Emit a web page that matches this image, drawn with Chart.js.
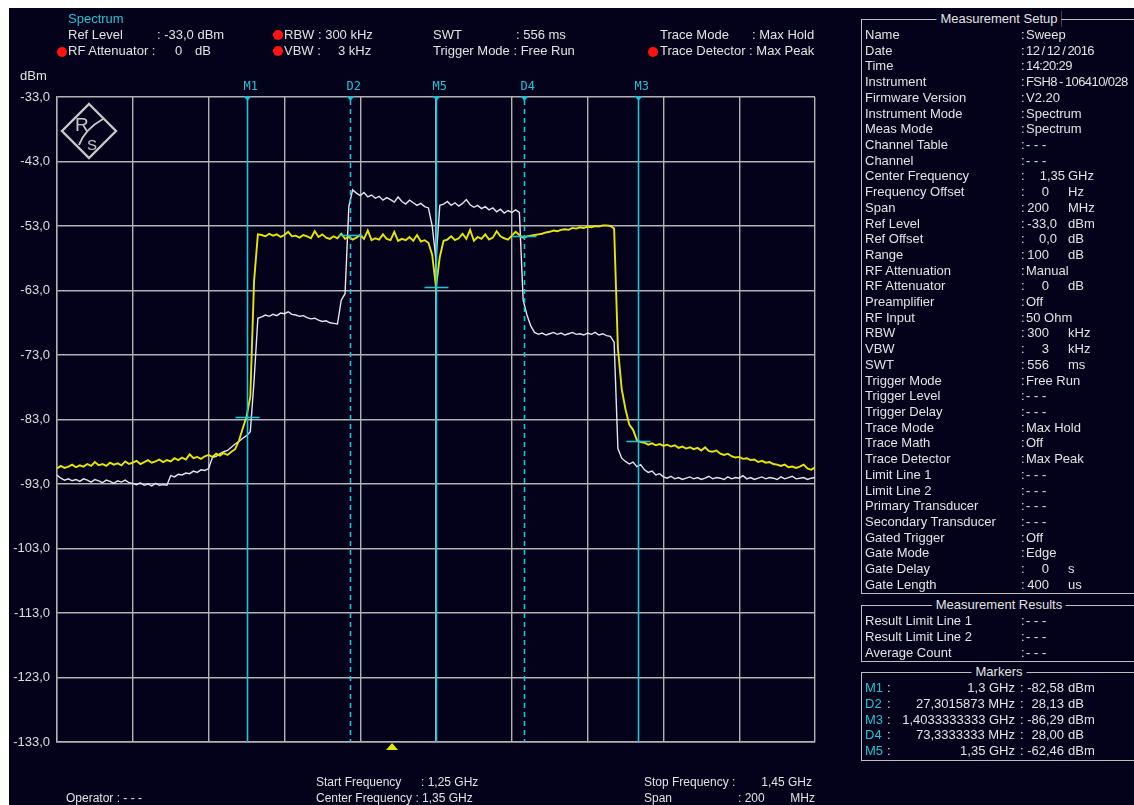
<!DOCTYPE html>
<html>
<head>
<meta charset="utf-8">
<script src="https://cdn.jsdelivr.net/npm/chart.js@4.4.1/dist/chart.umd.min.js"></script>
<style>
html,body{margin:0;padding:0;background:#fff;width:1134px;height:805px;overflow:hidden;}
#screen{position:absolute;left:9px;top:8px;width:1125px;height:797px;background:#03021a;}
#plot{position:absolute;left:0;top:0;}
#text{position:absolute;left:0;top:0;width:1134px;height:805px;}
.t{position:absolute;white-space:pre;font:13px 'Liberation Sans',Arial,sans-serif;color:#e2e2e2;line-height:16px;height:16px;}
.sm{font-size:12px;}
.r{transform:translateX(-100%);}
.c{transform:translateX(-50%);}
.cy{color:#22c4d4;}
.tight{letter-spacing:-0.6px;word-spacing:-0.8px;}
.dot{position:absolute;width:10px;height:10px;border-radius:50%;background:#ff1212;}
.box{position:absolute;border:1.5px solid #c0c0c0;box-sizing:border-box;}
.ttl{background:#03021a;padding:0 4px;}
</style>
</head>
<body>
<div id="screen"></div>
<canvas id="plot" width="1134" height="805"></canvas>
<div id="text"></div>
<script>
// Sweep: 1.25 GHz .. 1.45 GHz, 1 MHz per trace point
const startMHz = 1250;
const stopMHz = 1450;
const stepMHz = 1;
const refLevel = -33;
const bottomLevel = -133;
const freqGridMHz = [1250, 1270, 1290, 1310, 1330, 1350, 1370, 1390, 1410, 1430, 1450];
const levelGrid = [-133, -123, -113, -103, -93, -83, -73, -63, -53, -43, -33];

// Trace 1 (yellow), dBm, segments: [first frequency in MHz, levels]
const yellowTrace = [
  [1250, [-90.6,-90.2,-90.5,-90.3,-90.0,-90.4,-90.1,-90.3,-89.9,-90.2,
          -89.6,-90.1,-89.9,-90.2,-89.7,-90.0,-89.8,-90.1,-89.5,-89.9]],
  [1270, [-89.7,-89.4,-89.9,-89.6,-89.3,-89.7,-89.5,-89.2,-89.6,-89.3,
          -89.5,-89.0,-89.3,-88.9,-89.2,-88.4,-89.0,-88.8,-89.1,-88.7]],
  [1290, [-88.5,-88.8,-88.3,-88.6,-88.2,-88.5,-88.0,-87.6,-86.3,-84.4]],
  [1300, [-82.58,-79.5,-61.5,-54.3]],
  [1304, [-54.4,-54.6,-54.2,-54.5,-54.3,-54.7,-54.4,-53.9,-54.6,-54.5,
          -54.8,-54.4,-54.6,-54.9,-53.8,-54.7,-54.3,-54.8,-55.0,-54.6,
          -54.9,-54.2,-55.0,-54.7,-55.1,-54.8,-54.4,-55.0,-53.7,-55.2,
          -54.9,-55.1,-54.3,-55.0,-55.2,-53.9,-55.3,-55.0,-55.2,-54.7,
          -55.3,-54.4,-55.4,-55.2]],
  [1348, [-55.6,-57.5,-62.46,-57.8,-55.3]],
  [1353, [-55.1,-54.6,-55.2,-54.9,-54.2,-55.0,-53.6,-55.3,-54.7,-55.0,
          -54.3,-55.1,-54.8,-53.8,-54.6,-54.9,-55.1,-54.5,-53.9,-54.4,
          -54.8]],
  [1374, [-54.6,-54.5,-54.4,-54.3,-54.2,-54.0,-53.9,-53.7,-53.8,-53.6,
          -53.5,-53.6,-53.3,-53.4,-53.2,-53.3,-53.1,-53.2,-53.0,-53.1,
          -52.9,-52.9,-53.0]],
  [1397, [-53.4,-72.0,-78.3,-81.4,-83.8,-84.6,-86.2,-86.5]],
  [1405, [-86.6,-86.9,-86.7,-87.0,-86.8,-87.1,-86.9,-87.2,-87.0,-87.4,
          -87.2,-87.5,-87.3,-87.6,-87.4,-87.8,-87.3,-87.9,-88.0,-87.8,
          -88.3,-88.5,-88.3,-88.7,-88.9,-88.8,-89.1,-89.0,-89.3,-89.2,
          -89.6,-89.4,-89.7,-89.6,-89.9,-90.0,-90.2,-90.0,-90.4,-90.3,
          -90.5,-90.3,-90.0,-90.6,-90.8,-90.4]]
];

// Trace 2 (white), dBm
const whiteTrace = [
  [1250, [-91.6,-92.1,-92.4,-92.2,-92.5,-92.3,-92.6,-92.2,-92.4,-92.7,
          -92.3,-92.5,-92.8,-92.4,-92.6,-92.9,-92.5,-92.7,-92.4,-92.8]],
  [1270, [-92.9,-93.1,-92.8,-93.2,-93.0,-93.3,-92.9,-93.2,-93.1,-93.2]],
  [1280, [-91.7,-91.9,-91.5,-91.6,-91.3,-91.4,-91.0,-91.2,-90.8,-90.9,-90.6]],
  [1291, [-88.9,-88.7,-88.3,-88.0,-87.8,-87.3,-86.8,-86.4,-85.9,-85.5,-84.9,-77.0]],
  [1303, [-67.3,-67.1,-66.8,-67.0,-66.7,-66.9,-66.5,-66.6,-66.3,-66.7,
          -66.8,-67.0,-66.9,-67.2,-67.4,-67.3,-67.6,-67.8,-67.7,-68.0,
          -68.1,-68.2]],
  [1325, [-64.5,-63.5,-50.0,-47.4]],
  [1329, [-47.9,-48.3,-47.8,-48.5,-48.2,-48.7,-48.4,-49.0,-48.6,-48.9,
          -49.3,-48.5,-49.2,-49.6,-49.0,-49.4,-49.8,-49.5,-50.0,-50.2]],
  [1349, [-53.0,-58.3,-49.8]],
  [1352, [-49.6,-49.2,-49.8,-49.4,-49.9,-49.5,-48.9,-49.7,-50.1,-49.8,
          -50.3,-50.0,-50.5,-50.2,-50.8,-50.4,-51.0,-50.6,-50.9,-50.5,
          -50.9]],
  [1373, [-64.5,-66.8,-68.5]],
  [1376, [-69.5,-69.8,-69.6,-69.9,-69.7,-69.5,-69.8,-69.6,-69.9,-69.7,
          -69.5,-69.8,-69.7,-69.9,-69.6,-69.8,-69.5,-69.9,-69.7,-70.0,
          -70.1]],
  [1397, [-71.0,-87.5,-89.0,-89.5,-89.9,-89.6,-90.3,-90.0,-90.8,-91.2,
          -91.0,-91.6,-91.4,-91.9]],
  [1411, [-92.1,-91.8,-92.2,-92.0,-92.3,-92.1,-91.9,-92.2,-92.0,-92.3,
          -92.1,-91.8,-92.2,-92.0,-92.1,-92.3,-91.9,-92.2,-92.0,-92.1,
          -91.7,-92.2,-92.0,-92.3,-92.1,-91.9,-92.2,-92.0,-92.1,-92.3,
          -91.9,-92.2,-92.0,-91.8,-92.2,-92.1,-92.0,-92.3,-92.1,-92.0]]
];

// Markers: M = absolute (MHz, dBm); D = delta to M1 (MHz, dB)
const markerNames = ['M1', 'D2', 'M3', 'D4', 'M5'];
const markerFreqMHz = [1300, 27.3015873, 1403.3333333, 73.3333333, 1350];
const markerValues = [-82.58, 28.13, -86.29, 28.00, -62.46];
const centerMarkMHz = [1338.4];

const setupLabels = ['Name','Date','Time','Instrument','Firmware Version','Instrument Mode','Meas Mode',
  'Channel Table','Channel','Center Frequency','Frequency Offset','Span','Ref Level','Ref Offset','Range',
  'RF Attenuation','RF Attenuator','Preamplifier','RF Input','RBW','VBW','SWT','Trigger Mode','Trigger Level',
  'Trigger Delay','Trace Mode','Trace Math','Trace Detector','Limit Line 1','Limit Line 2','Primary Transducer',
  'Secondary Transducer','Gated Trigger','Gate Mode','Gate Delay','Gate Length'];
const setupValues = ['Sweep','12 / 12 / 2016','14:20:29','FSH8 - 106410/028','V2.20','Spectrum','Spectrum',
  '- - -','- - -','1,35','0','200','-33,0','0,0','100','Manual','0','Off','50 Ohm','300','3','556','Free Run',
  '- - -','- - -','Max Hold','Off','Max Peak','- - -','- - -','- - -','- - -','Off','Edge','0','400'];
const setupUnits = ['','','','','','','','','','GHz','Hz','MHz','dBm','dB','dB','','dB','','','kHz','kHz','ms',
  '','','','','','','','','','','','','s','us'];
const resultLabels = ['Result Limit Line 1','Result Limit Line 2','Average Count'];
const resultValues = ['- - -','- - -','- - -'];

const CYAN = '#1fc3d3';
const YELLOW = '#e6e600';
const TRACE_WHITE = '#e4e4ec';
const GRID = '#b2b2b2';

function expand(trace) {
  const pts = [];
  trace.forEach(([first, vals]) => vals.forEach((v, i) => pts.push({x: first + i * stepMHz, y: v})));
  return pts;
}
function comma(v, d) { return v.toFixed(d).replace('.', ','); }

function markerPoint(i) {
  if (markerNames[i][0] === 'D') {
    return {f: markerFreqMHz[0] + markerFreqMHz[i], lvl: markerValues[0] + markerValues[i], dashed: true};
  }
  return {f: markerFreqMHz[i], lvl: markerValues[i], dashed: false};
}

// R&S logo in the upper-left corner of the graticule
const logoPlugin = {
  id: 'logo',
  beforeDatasetsDraw(chart) {
    const ctx = chart.ctx, cx = 89, cy = 131, r = 27;
    ctx.save();
    ctx.strokeStyle = '#c6c6c6';
    ctx.fillStyle = '#c6c6c6';
    ctx.lineWidth = 2.4;
    ctx.beginPath();
    ctx.moveTo(cx, cy - r); ctx.lineTo(cx + r, cy); ctx.lineTo(cx, cy + r); ctx.lineTo(cx - r, cy);
    ctx.closePath(); ctx.stroke();
    ctx.font = '19px "Liberation Sans", Arial, sans-serif';
    ctx.textBaseline = 'alphabetic';
    ctx.fillText('R', cx - 14, cy);
    ctx.font = '15px "Liberation Sans", Arial, sans-serif';
    ctx.fillText('S', cx - 2, cy + 19);
    ctx.lineWidth = 2;
    ctx.beginPath();
    ctx.moveTo(cx - 10, cy + 14);
    ctx.quadraticCurveTo(cx - 4, cy - 2, cx + 14, cy - 12);
    ctx.stroke();
    ctx.restore();
  }
};

// Marker lines, level ticks and labels
const markerPlugin = {
  id: 'markers',
  afterDatasetsDraw(chart) {
    const {ctx, chartArea: a, scales: {x, y}} = chart;
    ctx.save();
    markerNames.forEach((name, i) => {
      const m = markerPoint(i);
      const px = Math.round(x.getPixelForValue(m.f)) + 0.5;
      const py = Math.round(y.getPixelForValue(m.lvl)) + 0.5;
      ctx.strokeStyle = CYAN;
      ctx.fillStyle = CYAN;
      ctx.lineWidth = 1.6;
      ctx.setLineDash(m.dashed ? [5, 4] : []);
      ctx.beginPath(); ctx.moveTo(px, a.top + 3); ctx.lineTo(px, a.bottom); ctx.stroke();
      ctx.setLineDash([]);
      ctx.beginPath(); ctx.moveTo(px - 12, py); ctx.lineTo(px + 12, py); ctx.stroke();
      ctx.beginPath(); ctx.moveTo(px - 4, a.top - 1); ctx.lineTo(px + 4, a.top - 1); ctx.lineTo(px, a.top + 4);
      ctx.closePath(); ctx.fill();
      ctx.font = '12px "DejaVu Sans Mono", monospace';
      ctx.textBaseline = 'middle';
      ctx.textAlign = 'left';
      ctx.fillText(name, px - 4, a.top - 10);
    });
    // centre-frequency pointer under the graticule
    centerMarkMHz.forEach(f => {
      const px = x.getPixelForValue(f);
      ctx.fillStyle = YELLOW;
      ctx.beginPath(); ctx.moveTo(px, a.bottom + 1); ctx.lineTo(px + 6, a.bottom + 8); ctx.lineTo(px - 6, a.bottom + 8);
      ctx.closePath(); ctx.fill();
    });
    ctx.restore();
  }
};

new Chart(document.getElementById('plot'), {
  type: 'line',
  data: {
    datasets: [
      {data: expand(yellowTrace), borderColor: YELLOW, borderWidth: 1.9, pointRadius: 0, tension: 0},
      {data: expand(whiteTrace), borderColor: TRACE_WHITE, borderWidth: 1.4, pointRadius: 0, tension: 0}
    ]
  },
  options: {
    responsive: false,
    animation: false,
    events: [],
    layout: {padding: {top: 97, right: 319, bottom: 63, left: 0}},
    plugins: {legend: {display: false}, tooltip: {enabled: false}},
    scales: {
      x: {
        type: 'linear', min: startMHz, max: stopMHz,
        afterBuildTicks: s => { s.ticks = freqGridMHz.map(v => ({value: v})); },
        afterFit: s => { s.height = 0; },
        ticks: {display: false},
        grid: {color: GRID, lineWidth: 1.4, drawTicks: false},
        border: {color: GRID, width: 1.4}
      },
      y: {
        type: 'linear', min: bottomLevel, max: refLevel,
        afterBuildTicks: s => { s.ticks = levelGrid.map(v => ({value: v})); },
        afterFit: s => { s.width = 57; },
        ticks: {
          autoSkip: false, padding: 7, color: '#dedede',
          font: {family: '"Liberation Sans", Arial, sans-serif', size: 13},
          callback: v => comma(v, 1)
        },
        grid: {color: GRID, lineWidth: 1.4, drawTicks: false},
        border: {color: GRID, width: 1.4}
      }
    }
  },
  plugins: [logoPlugin, markerPlugin]
});

// ---- text around the graticule ----
const T = document.getElementById('text');
function put(str, x, y, cls) {
  const d = document.createElement('div');
  d.className = 't ' + (cls || '');
  d.textContent = str;
  d.style.left = x + 'px';
  d.style.top = (y - 8) + 'px';
  T.appendChild(d);
  return d;
}
function dot(x, y) {
  const d = document.createElement('div');
  d.className = 'dot';
  d.style.left = (x - 5) + 'px';
  d.style.top = (y - 5) + 'px';
  T.appendChild(d);
}
function box(x, y, w, h, title) {
  const b = document.createElement('div');
  b.className = 'box';
  b.style.left = x + 'px'; b.style.top = y + 'px';
  b.style.width = w + 'px'; b.style.height = h + 'px';
  T.appendChild(b);
  put(title, 999, y, 'c ttl');
}

// header
put('Spectrum', 68, 19, 'cy');
put('Ref Level', 68, 35); put(': ' + comma(refLevel, 1) + ' dBm', 157, 35);
dot(62, 52); put('RF Attenuator :', 68, 51); put('0', 175, 51); put('dB', 195, 51);
dot(278, 35); put('RBW : 300 kHz', 284, 35);
dot(278, 51); put('VBW :', 284, 51); put('3 kHz', 338, 51);
put('SWT', 433, 35); put(': 556 ms', 516, 35);
put('Trigger Mode : Free Run', 433, 51);
put('Trace Mode', 660, 35); put(': Max Hold', 752, 35);
dot(653, 52); put('Trace Detector : Max Peak', 660, 51);
put('dBm', 20, 76);

// footer
put('Start Frequency', 316, 782, 'sm'); put(': ' + comma(startMHz / 1000, 2) + ' GHz', 421, 782, 'sm');
put('Operator : - - -', 66, 798, 'sm');
put('Center Frequency : ' + comma((startMHz + stopMHz) / 2000, 2) + ' GHz', 316, 798, 'sm');
put('Stop Frequency :', 644, 782, 'sm'); put(comma(stopMHz / 1000, 2) + ' GHz', 812, 782, 'sm r');
put('Span', 644, 798, 'sm'); put(': ' + (stopMHz - startMHz), 738, 798, 'sm'); put('MHz', 815, 798, 'sm r');

// Measurement Setup
box(861, 19, 278, 575, 'Measurement Setup');
setupLabels.forEach((lab, i) => {
  const y = 35 + i * 15.71;
  put(lab, 865, y);
  put(':', 1021, y);
  const v = setupValues[i], u = setupUnits[i];
  if (u) {
    const dec = v.includes(',') ? v.split(',')[1].length : 0;
    put(v, 1049 + 8 * dec, y, 'r');
    put(u, 1068, y);
  } else {
    put(v, 1026, y, /[\/:]/.test(v) ? 'tight' : '');
  }
});

// Measurement Results
box(861, 605, 278, 57, 'Measurement Results');
resultLabels.forEach((lab, i) => {
  const y = 621 + i * 15.8;
  put(lab, 865, y); put(':', 1021, y); put(resultValues[i], 1026, y);
});

// Markers table
box(861, 672, 278, 89, 'Markers');
markerNames.forEach((name, i) => {
  const y = 688 + i * 15.8;
  const isDelta = name[0] === 'D';
  put(name, 865, y, 'cy'); put(':', 887, y);
  const f = isDelta ? String(markerFreqMHz[i]).replace('.', ',') + ' MHz'
                    : String(markerFreqMHz[i] / 1000).replace('.', ',') + ' GHz';
  put(f, 1015, y, 'r'); put(':', 1020, y);
  put(comma(markerValues[i], 2), 1064, y, 'r');
  put(isDelta ? 'dB' : 'dBm', 1068, y);
});
</script>
</body>
</html>
